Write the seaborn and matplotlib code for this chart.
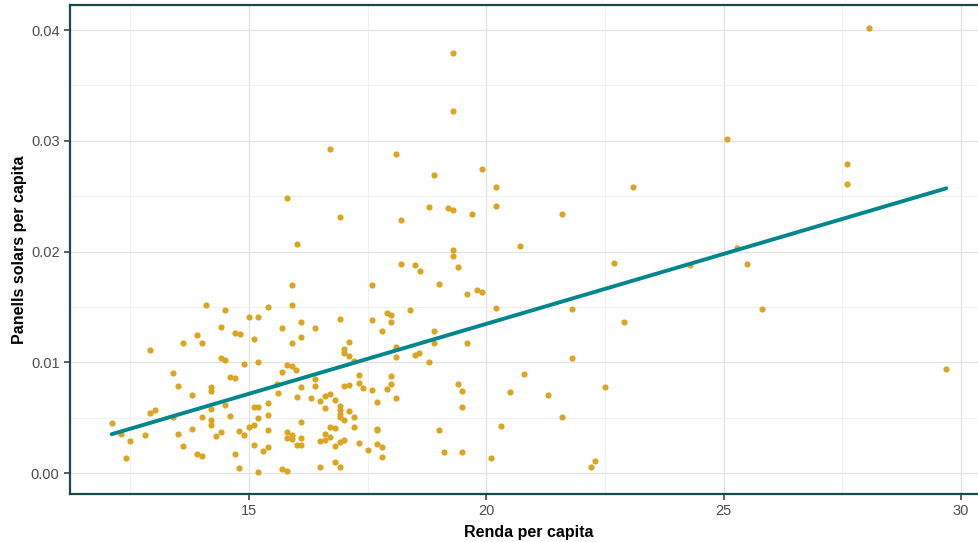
import matplotlib
matplotlib.use("Agg")
import matplotlib.pyplot as plt
import seaborn as sns
import numpy as np
import pandas as pd
from matplotlib.ticker import MultipleLocator

# Renda per capita (x) and panells solars per capita (y)
renda = [
    12.11, 12.41, 12.50, 12.31, 12.81, 12.91, 12.91, 13.02, 13.41, 13.41,
    13.50, 13.50, 13.62, 13.62, 13.81, 13.81, 13.90, 13.90, 14.01, 14.01,
    14.01, 14.10, 14.21, 14.21, 14.21, 14.21, 14.21, 14.30, 14.41, 14.41,
    14.41, 14.50, 14.50, 14.50, 14.60, 14.61, 14.70, 14.70, 14.70, 14.81,
    14.80, 14.80, 14.89, 14.89, 15.01, 15.01, 15.10, 15.10, 15.10, 15.10,
    15.20, 15.20, 15.20, 15.20, 15.20, 15.30, 15.41, 15.41, 15.41, 15.41,
    15.41, 15.60, 15.61, 15.70, 15.70, 15.70, 15.80, 15.80, 15.80, 15.80,
    15.90, 15.90, 15.90, 15.90, 15.90, 15.90, 16.00, 16.01, 16.01, 16.10,
    16.10, 16.10, 16.10, 16.10, 16.10, 16.01, 15.81,
    16.30, 16.40, 16.40, 16.40, 16.50, 16.50, 16.50, 16.60, 16.60, 16.60,
    16.60, 16.71, 16.70, 16.71, 16.71, 16.81, 16.81, 16.81, 16.81, 16.91,
    16.91, 16.91, 16.91, 16.91, 16.91, 16.91, 16.91, 17.00, 17.00, 17.00,
    17.00, 17.00, 17.10, 17.10, 17.10, 17.10, 17.21, 17.21, 17.21, 17.31,
    17.31, 17.31, 17.41, 17.50, 17.60, 17.60, 17.60, 17.70, 17.70, 17.70,
    17.70, 17.80, 17.80, 17.80, 17.90, 17.90, 18.00, 18.00, 18.00, 18.00,
    18.10, 18.10, 18.10, 18.10, 18.20, 18.20, 18.40, 18.50, 18.50, 18.59,
    18.60, 18.80, 18.80, 18.90, 18.90, 18.90, 19.00, 19.00, 19.10, 19.19,
    19.30, 19.30, 19.30, 19.30, 19.30, 19.40, 19.40, 19.49, 19.49, 19.49,
    19.59, 19.59, 19.70, 19.80, 19.91, 19.91,
    20.10, 20.20, 20.20, 20.20, 20.30, 20.50, 20.70, 20.79, 21.30, 21.60,
    21.60, 21.81, 21.81, 22.20, 22.29, 22.50, 22.69, 22.90, 23.09, 24.29,
    25.08, 25.28, 25.49, 25.80, 27.59, 27.59, 28.07, 29.69,
]
panells = [
    0.00450, 0.00138, 0.00294, 0.00357, 0.00348, 0.01111, 0.00546, 0.00573, 0.00901, 0.00510,
    0.00786, 0.00354, 0.00249, 0.01171, 0.00708, 0.00402, 0.01243, 0.00168, 0.01171, 0.00507,
    0.00150, 0.01514, 0.00780, 0.00741, 0.00577, 0.00480, 0.00435, 0.00336, 0.01318, 0.01041,
    0.00372, 0.01471, 0.01021, 0.00618, 0.00865, 0.00516, 0.01267, 0.00861, 0.00168, 0.01255,
    0.00381, 0.00043, 0.00982, 0.00342, 0.01405, 0.00414, 0.01207, 0.00597, 0.00438, 0.00255,
    0.01411, 0.01005, 0.00597, 0.00498, 0.00012, 0.00201, 0.01495, 0.00636, 0.00528, 0.00387,
    0.00240, 0.00802, 0.00726, 0.01309, 0.00917, 0.00039, 0.00978, 0.00369, 0.00321, 0.00021,
    0.01701, 0.01514, 0.01171, 0.00969, 0.00342, 0.00312, 0.00933, 0.00683, 0.00250, 0.00255,
    0.01366, 0.01231, 0.00775, 0.00462, 0.00315, 0.02068, 0.02483,
    0.00678, 0.01306, 0.00850, 0.00789, 0.00649, 0.00291, 0.00059, 0.00694, 0.00586, 0.00354,
    0.00303, 0.00717, 0.00420, 0.00330, 0.02922, 0.00660, 0.00408, 0.00249, 0.00099, 0.02312,
    0.01387, 0.00606, 0.00570, 0.00537, 0.00510, 0.00282, 0.00057, 0.01117, 0.01086, 0.00786,
    0.00480, 0.00300, 0.01183, 0.01057, 0.00793, 0.00561, 0.01012, 0.00510, 0.00420, 0.00886,
    0.00811, 0.00276, 0.00766, 0.00207, 0.01699, 0.01381, 0.00753, 0.00645, 0.00402, 0.00390,
    0.00267, 0.01285, 0.00234, 0.00144, 0.01447, 0.00757, 0.01423, 0.01360, 0.00877, 0.00802,
    0.02877, 0.01141, 0.01045, 0.00678, 0.02282, 0.01886, 0.01471, 0.01883, 0.01068, 0.01084,
    0.01823, 0.02405, 0.01003, 0.02694, 0.01279, 0.01171, 0.01710, 0.00393, 0.00189, 0.02396,
    0.02378, 0.02014, 0.01960, 0.03795, 0.03273, 0.01859, 0.00807, 0.00741, 0.00597, 0.00186,
    0.01613, 0.01174, 0.02339, 0.01651, 0.02741, 0.01631,
    0.00138, 0.02586, 0.02414, 0.01492, 0.00429, 0.00735, 0.02050, 0.00895, 0.00705, 0.02342,
    0.00510, 0.01483, 0.01041, 0.00059, 0.00111, 0.00777, 0.01897, 0.01360, 0.02586, 0.01879,
    0.03012, 0.02032, 0.01888, 0.01480, 0.02789, 0.02609, 0.04021, 0.00937,
]

df = pd.DataFrame({"renda": renda, "panells": panells})

sns.set_theme(style="white")
plt.rcParams["font.family"] = ["Liberation Sans", "DejaVu Sans"]

border = "#1b4848"
fig = plt.figure(figsize=(9.79, 5.42), dpi=100)
ax = fig.add_axes([0.0715, 0.0886, 0.9377, 0.9013])

sns.regplot(data=df, x="renda", y="panells", ci=None, ax=ax,
            scatter_kws=dict(color="#DAA520", s=20, linewidths=0, alpha=1, zorder=3),
            line_kws=dict(color="#00868B", lw=2.8, zorder=4))

# ggplot-style 5% expansion
xr = df["renda"].max() - df["renda"].min()
yr = df["panells"].max() - df["panells"].min()
ax.set_xlim(df["renda"].min() - 0.05 * xr, df["renda"].max() + 0.05 * xr)
ax.set_ylim(df["panells"].min() - 0.05 * yr, df["panells"].max() + 0.05 * yr)

ax.xaxis.set_major_locator(MultipleLocator(5))
ax.xaxis.set_minor_locator(MultipleLocator(2.5))
ax.yaxis.set_major_locator(MultipleLocator(0.01))
ax.yaxis.set_minor_locator(MultipleLocator(0.005))
ax.yaxis.set_major_formatter(lambda v, p: f"{v:.2f}")
ax.grid(which="major", color="#e3e3e3", lw=0.9, zorder=0)
ax.grid(which="minor", color="#eeeeee", lw=0.6, zorder=0)
ax.set_axisbelow(True)

for s in ax.spines.values():
    s.set_color(border)
    s.set_linewidth(1.6)

ax.tick_params(axis="both", which="major", length=4, width=1.1, color="#333333",
               labelsize=10.5, labelcolor="#4d4d4d", bottom=True, left=True)
ax.tick_params(which="minor", length=0)

ax.set_xlabel("Renda per capita", fontsize=11.5, fontweight="bold", color="black", labelpad=5)
ax.set_ylabel("Panells solars per capita", fontsize=11.5, fontweight="bold", color="black", labelpad=3)

fig.savefig("out.png", dpi=100)
